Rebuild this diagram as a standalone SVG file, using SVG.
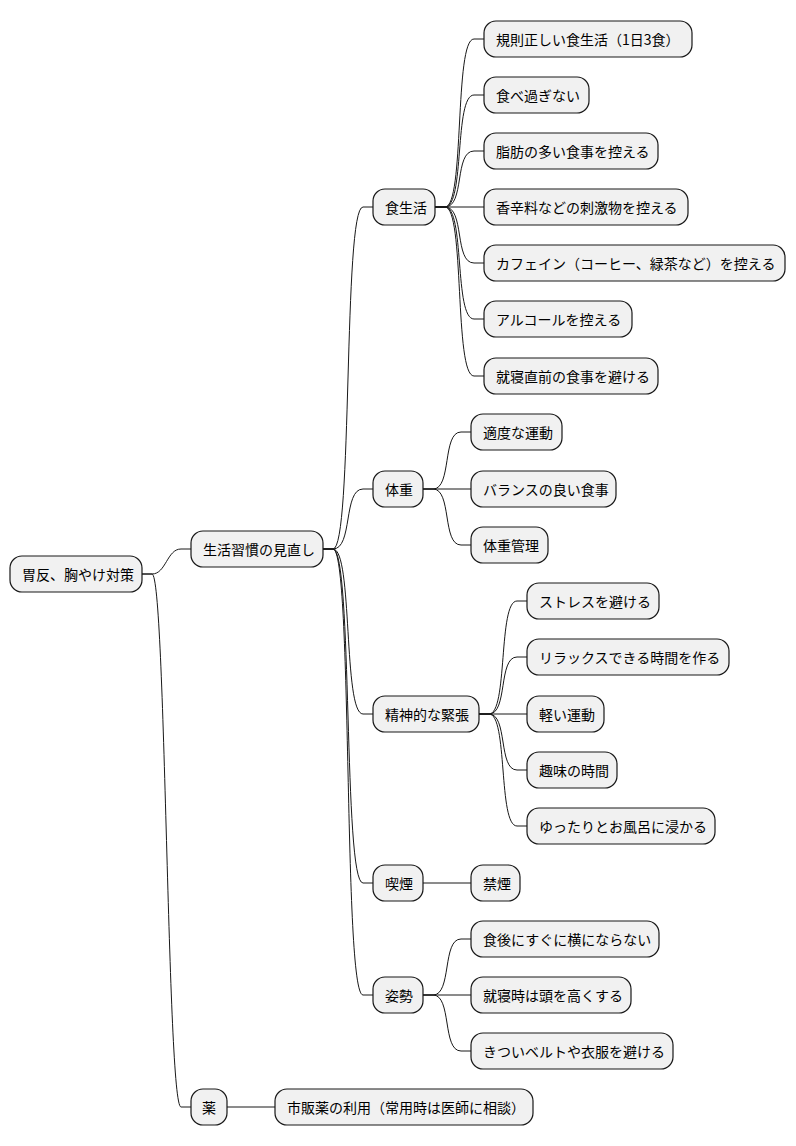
<svg xmlns="http://www.w3.org/2000/svg" width="796" height="1146" viewBox="0 0 796 1146">
<style>
.n rect{fill:#F1F1F1;stroke:#181818;stroke-width:1.2}
.n text{font-family:"Noto Sans CJK JP","Noto Sans",sans-serif;font-size:14px;fill:#000;dominant-baseline:central}
#c path{fill:none;stroke:#181818;stroke-width:1}
</style>
<rect width="796" height="1146" fill="#fff"/>
<g id="c">
<path d="M142,574 h10 C166,574 167,549 181,549 h10"/>
<path d="M142,574 h10 C166,574 167,1107 181,1107 h10"/>
<path d="M227,1107 h48"/>
<path d="M323,549 h10 C353,549 343,207 363,207 h10"/>
<path d="M323,549 h10 C353,549 343,489 363,489 h10"/>
<path d="M323,549 h10 C353,549 343,714 363,714 h10"/>
<path d="M323,549 h10 C353,549 343,883 363,883 h10"/>
<path d="M323,549 h10 C353,549 343,995 363,995 h10"/>
<path d="M435,207 h10 C465,207 454,39 474,39 h10"/>
<path d="M435,207 h10 C465,207 454,95 474,95 h10"/>
<path d="M435,207 h10 C465,207 454,151 474,151 h10"/>
<path d="M435,207 h49"/>
<path d="M435,207 h10 C465,207 454,263 474,263 h10"/>
<path d="M435,207 h10 C465,207 454,319 474,319 h10"/>
<path d="M435,207 h10 C465,207 454,376 474,376 h10"/>
<path d="M423,489 h10 C452,489 442,432 461,432 h10"/>
<path d="M423,489 h48"/>
<path d="M423,489 h10 C452,489 442,545 461,545 h10"/>
<path d="M479,714 h10 C508,714 498,601 517,601 h10"/>
<path d="M479,714 h10 C508,714 498,657 517,657 h10"/>
<path d="M479,714 h48"/>
<path d="M479,714 h10 C508,714 498,770 517,770 h10"/>
<path d="M479,714 h10 C508,714 498,826 517,826 h10"/>
<path d="M423,883 h48"/>
<path d="M423,995 h10 C452,995 442,939 461,939 h10"/>
<path d="M423,995 h48"/>
<path d="M423,995 h10 C452,995 442,1051 461,1051 h10"/>
</g>
<g id="root" class="n"><rect x="10" y="556" width="132" height="36" rx="12"/><text x="22" y="574">胃反、胸やけ対策</text></g>
<g id="n1" class="n"><rect x="191" y="531" width="132" height="36" rx="12"/><text x="203" y="549">生活習慣の見直し</text></g>
<g id="n2" class="n"><rect x="191" y="1089" width="36" height="36" rx="12"/><text x="202" y="1107">薬</text></g>
<g id="n2a" class="n"><rect x="275" y="1089" width="258" height="36" rx="12"/><text x="287" y="1107">市販薬の利用（常用時は医師に相談）</text></g>
<g id="a" class="n"><rect x="373" y="189" width="62" height="36" rx="12"/><text x="385" y="207">食生活</text></g>
<g id="b" class="n"><rect x="373" y="471" width="50" height="36" rx="12"/><text x="385" y="489">体重</text></g>
<g id="s" class="n"><rect x="373" y="696" width="106" height="36" rx="12"/><text x="385" y="714">精神的な緊張</text></g>
<g id="k" class="n"><rect x="373" y="865" width="50" height="36" rx="12"/><text x="385" y="883">喫煙</text></g>
<g id="p" class="n"><rect x="373" y="977" width="50" height="36" rx="12"/><text x="385" y="995">姿勢</text></g>
<g id="a1" class="n"><rect x="484" y="21" width="208" height="36" rx="12"/><text x="496" y="39">規則正しい食生活（1日3食）</text></g>
<g id="a2" class="n"><rect x="484" y="77" width="105" height="36" rx="12"/><text x="496" y="95">食べ過ぎない</text></g>
<g id="a3" class="n"><rect x="484" y="133" width="174" height="36" rx="12"/><text x="496" y="151">脂肪の多い食事を控える</text></g>
<g id="a4" class="n"><rect x="484" y="189" width="204" height="36" rx="12"/><text x="496" y="207">香辛料などの刺激物を控える</text></g>
<g id="a5" class="n"><rect x="484" y="245" width="301" height="36" rx="12"/><text x="496" y="263">カフェイン（コーヒー、緑茶など）を控える</text></g>
<g id="a6" class="n"><rect x="484" y="301" width="148" height="36" rx="12"/><text x="496" y="319">アルコールを控える</text></g>
<g id="a7" class="n"><rect x="484" y="358" width="174" height="36" rx="12"/><text x="496" y="376">就寝直前の食事を避ける</text></g>
<g id="b1" class="n"><rect x="471" y="414" width="91" height="36" rx="12"/><text x="483" y="432">適度な運動</text></g>
<g id="b2" class="n"><rect x="471" y="471" width="145" height="36" rx="12"/><text x="483" y="489">バランスの良い食事</text></g>
<g id="b3" class="n"><rect x="471" y="527" width="77" height="36" rx="12"/><text x="483" y="545">体重管理</text></g>
<g id="s1" class="n"><rect x="527" y="583" width="132" height="36" rx="12"/><text x="539" y="601">ストレスを避ける</text></g>
<g id="s2" class="n"><rect x="527" y="639" width="202" height="36" rx="12"/><text x="539" y="657">リラックスできる時間を作る</text></g>
<g id="s3" class="n"><rect x="527" y="696" width="77" height="36" rx="12"/><text x="539" y="714">軽い運動</text></g>
<g id="s4" class="n"><rect x="527" y="752" width="90" height="36" rx="12"/><text x="539" y="770">趣味の時間</text></g>
<g id="s5" class="n"><rect x="527" y="808" width="188" height="36" rx="12"/><text x="539" y="826">ゆったりとお風呂に浸かる</text></g>
<g id="k1" class="n"><rect x="471" y="865" width="49" height="36" rx="12"/><text x="483" y="883">禁煙</text></g>
<g id="p1" class="n"><rect x="471" y="921" width="188" height="36" rx="12"/><text x="483" y="939">食後にすぐに横にならない</text></g>
<g id="p2" class="n"><rect x="471" y="977" width="160" height="36" rx="12"/><text x="483" y="995">就寝時は頭を高くする</text></g>
<g id="p3" class="n"><rect x="471" y="1033" width="202" height="36" rx="12"/><text x="483" y="1051">きついベルトや衣服を避ける</text></g>
</svg>
